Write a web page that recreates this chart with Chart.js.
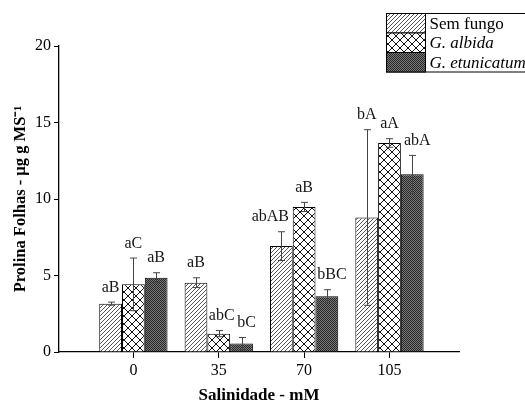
<!DOCTYPE html>
<html>
<head>
<meta charset="utf-8">
<script src="https://cdn.jsdelivr.net/npm/chart.js@4.4.1/dist/chart.umd.min.js"></script>
<style>
	body { margin: 0; background: #fff; }
	#wrap { width: 525px; height: 406px; position: relative; }
</style>
</head>
<body>
<div id="wrap"><canvas id="prolina"></canvas></div>
<script>
(function(){
	'use strict';

	var salinidade = [0, 35, 70, 105];
	var yTicks = [0, 5, 10, 15, 20];

	var semFungo = [3.16, 4.53, 6.92, 8.79];
	var semFungoErr = [0.10, 0.32, 0.94, 5.74];
	var albida = [4.42, 1.20, 9.48, 13.66];
	var albidaErr = [1.72, 0.20, 0.30, 0.28];
	var etunicatum = [4.85, 0.55, 3.65, 11.61];
	var etunicatumErr = [0.33, 0.40, 0.42, 1.24];

	var letrasSem = ['aB', 'aB', 'abAB', 'bA'];
	var letrasAlb = ['aC', 'abC', 'aB', 'aA'];
	var letrasEtu = ['aB', 'bC', 'bBC', 'abA'];

	// small horizontal nudges so neighbouring letters don't collide
	var nudgeSem = [0, 0, -11, 0];
	var nudgeAlb = [0, 3, 0, 0];
	var nudgeEtu = [0, 5, 5, 5];

	var serif = '"Liberation Serif", "Times New Roman", serif';

	function tile(size, paint){
		var c = document.createElement('canvas');
		c.width = size; c.height = size;
		var g = c.getContext('2d');
		g.fillStyle = '#fff';
		g.fillRect(0, 0, size, size);
		paint(g, size);
		return document.createElement('canvas').getContext('2d').createPattern(c, 'repeat');
	}

	var hatch = tile(4, function(g, s){
		g.strokeStyle = '#444';
		g.lineWidth = 0.9;
		g.beginPath();
		g.moveTo(-1, s + 1); g.lineTo(s + 1, -1);
		g.moveTo(-1, 1); g.lineTo(1, -1);
		g.moveTo(s - 1, s + 1); g.lineTo(s + 1, s - 1);
		g.stroke();
	});

	var cross = tile(8, function(g, s){
		g.strokeStyle = '#111';
		g.lineWidth = 1;
		g.beginPath();
		g.moveTo(0, 0); g.lineTo(s, s);
		g.moveTo(0, s); g.lineTo(s, 0);
		g.stroke();
	});

	var dots = tile(2, function(g){
		g.fillStyle = '#7a7a7a';
		g.fillRect(0, 0, 2, 2);
		g.fillStyle = '#262626';
		g.fillRect(0, 0, 1, 1);
		g.fillRect(1, 1, 1, 1);
	});

	function pts(vals){
		return vals.map(function(v, i){ return {x: salinidade[i], y: v}; });
	}

	var series = [
		{label: 'Sem fungo', data: semFungo, err: semFungoErr, letras: letrasSem, nudge: nudgeSem, fill: hatch, italic: false},
		{label: 'G. albida', data: albida, err: albidaErr, letras: letrasAlb, nudge: nudgeAlb, fill: cross, italic: true},
		{label: 'G. etunicatum', data: etunicatum, err: etunicatumErr, letras: letrasEtu, nudge: nudgeEtu, fill: dots, italic: true}
	];

	var errorBars = {
		id: 'errorBars',
		afterDatasetsDraw: function(chart){
			var ctx = chart.ctx;
			var y = chart.scales.y;
			ctx.save();
			series.forEach(function(s, d){
				chart.getDatasetMeta(d).data.forEach(function(bar, i){
					var top = y.getPixelForValue(s.data[i] + s.err[i]);
					var bot = y.getPixelForValue(s.data[i] - s.err[i]);
					var x = Math.round(bar.x) + 0.5;
					ctx.strokeStyle = '#444';
					ctx.lineWidth = 1;
					ctx.beginPath();
					ctx.moveTo(x, top); ctx.lineTo(x, bot);
					ctx.moveTo(x - 3.5, top); ctx.lineTo(x + 3.5, top);
					ctx.moveTo(x - 3.5, bot); ctx.lineTo(x + 3.5, bot);
					ctx.stroke();

					ctx.fillStyle = '#151515';
					ctx.font = '16px ' + serif;
					ctx.textAlign = 'center';
					ctx.textBaseline = 'middle';
					ctx.fillText(s.letras[i], bar.x + s.nudge[i], top - 14.5);
				});
			});
			ctx.restore();
		}
	};

	var legendBox = {
		id: 'legendBox',
		afterDraw: function(chart){
			var ctx = chart.ctx;
			var left = 386.5, top = 13.5, rowH = 19.5, swW = 39;
			ctx.save();
			ctx.strokeStyle = '#000';
			ctx.lineWidth = 1;
			ctx.strokeRect(left, top, 200, rowH * 3);
			series.forEach(function(s, i){
				var ry = top + i * rowH;
				ctx.fillStyle = s.fill;
				ctx.fillRect(left, ry, swW, rowH);
				ctx.strokeRect(left, ry, swW, rowH);
				ctx.fillStyle = '#000';
				ctx.font = (s.italic ? 'italic ' : '') + '17px ' + serif;
				ctx.textAlign = 'left';
				ctx.textBaseline = 'middle';
				ctx.fillText(s.label, left + swW + 4, ry + rowH / 2 + 1);
			});
			ctx.restore();
		}
	};

	new Chart(document.getElementById('prolina'), {
		type: 'bar',
		data: {
			datasets: series.map(function(s){
				return {
					label: s.label,
					data: pts(s.data),
					backgroundColor: s.fill,
					borderColor: '#000',
					borderWidth: 1,
					barPercentage: 1,
					categoryPercentage: 0.8
				};
			})
		},
		options: {
			responsive: true,
			maintainAspectRatio: false,
			animation: false,
			layout: { padding: { top: 46, right: 66, left: 0, bottom: 0 } },
			plugins: { legend: { display: false }, tooltip: { enabled: false } },
			scales: {
				x: {
					type: 'linear',
					min: -30.5,
					max: 133.5,
					offset: false,
					afterBuildTicks: function(scale){
						scale.ticks = salinidade.map(function(v){ return {value: v}; });
					},
					afterFit: function(scale){ scale.height = 54; },
					grid: { offset: false, drawOnChartArea: false, drawTicks: true, tickLength: 6, color: '#000' },
					border: { display: true, color: '#000', width: 1.3 },
					ticks: { color: '#000', padding: 3, font: { family: serif, size: 16 } },
					title: {
						display: true,
						text: 'Salinidade - mM',
						color: '#000',
						padding: { top: 0, bottom: 0 },
						font: { family: serif, size: 17, weight: 'bold' }
					}
				},
				y: {
					min: 0,
					max: 20,
					afterBuildTicks: function(scale){
						scale.ticks = yTicks.map(function(v){ return {value: v}; });
					},
					afterFit: function(scale){ scale.width = 59; },
					grid: { drawOnChartArea: false, drawTicks: true, tickLength: 5, color: '#000' },
					border: { display: true, color: '#000', width: 1.3 },
					ticks: { color: '#000', padding: 3, font: { family: serif, size: 16 } },
					title: {
						display: true,
						text: 'Prolina Folhas - µg g MS⁻¹',
						color: '#000',
						padding: { top: 11, bottom: 0 },
						font: { family: serif, size: 16.5, weight: 'bold' }
					}
				}
			}
		},
		plugins: [errorBars, legendBox]
	});
})();
</script>
</body>
</html>
